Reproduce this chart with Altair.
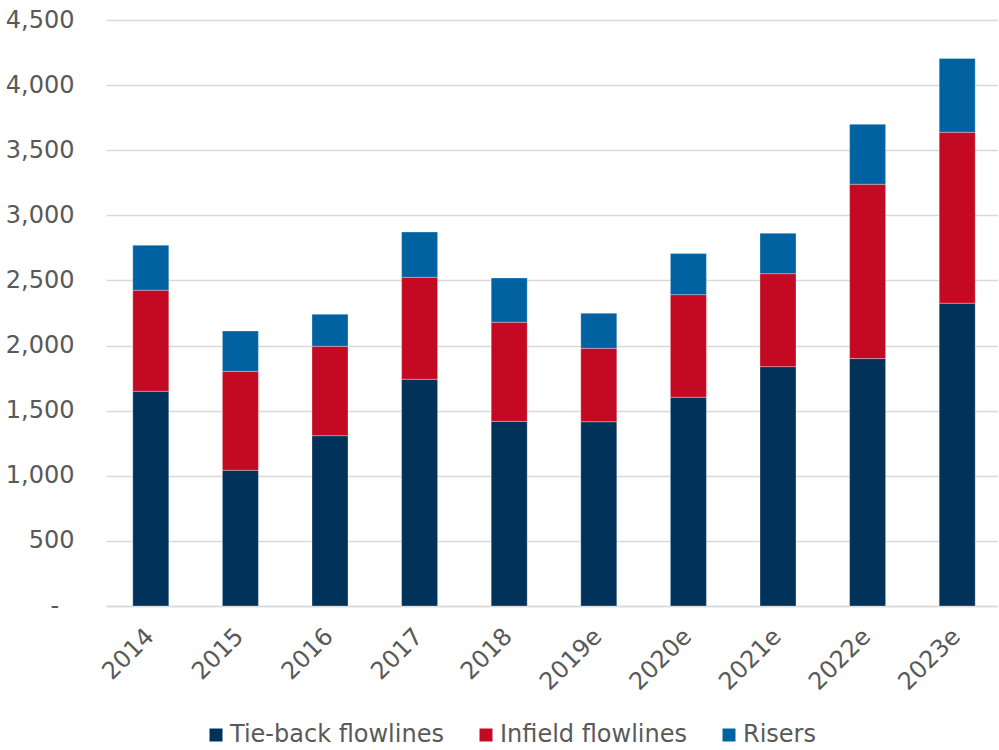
import altair as alt
import pandas as pd

years = ["2014", "2015", "2016", "2017", "2018",
         "2019e", "2020e", "2021e", "2022e", "2023e"]
series = ["Tie-back flowlines", "Infield flowlines", "Risers"]
tieback = [1649, 1042, 1308, 1741, 1418, 1415, 1603, 1838, 1900, 2325]
infield = [776, 760, 686, 783, 761, 564, 788, 714, 1339, 1313]
risers = [345, 310, 246, 348, 340, 269, 315, 310, 460, 566]
colors = ["#00325A", "#C30A22", "#0062A1"]
y_ticks = [0, 500, 1000, 1500, 2000, 2500, 3000, 3500, 4000, 4500]

rows = []
for i, (name, vals) in enumerate(zip(series, [tieback, infield, risers])):
    for year, v in zip(years, vals):
        rows.append({"year": year, "series": name, "value": v, "order": i})
df = pd.DataFrame(rows)

FONT = "DejaVu Sans"
GREY = "#595959"

# zero shows as a padded dash, accounting style
zero_label = "-\u2007\u200b"

chart = alt.Chart(df).mark_bar(
    size=36, stroke="white", strokeWidth=0.6, strokeOpacity=0.5
).encode(
    x=alt.X("year:N", sort=years, title=None,
            scale=alt.Scale(paddingInner=0.6, paddingOuter=0.3),
            axis=alt.Axis(labelAngle=-45, labelFontSize=24, labelColor=GREY,
                          labelFont=FONT, ticks=False, domainColor="#D9D9D9",
                          domainWidth=1.3, labelPadding=18, labelOffset=-9)),
    y=alt.Y("value:Q", title=None,
            scale=alt.Scale(domain=[0, 4500], nice=False),
            axis=alt.Axis(values=y_ticks, domain=False, ticks=False,
                          labelFontSize=24, labelColor=GREY, labelFont=FONT,
                          labelPadding=32, gridColor="#D9D9D9", gridWidth=1.3,
                          labelExpr=f"datum.value == 0 ? '{zero_label}' : format(datum.value, ',')")),
    color=alt.Color("series:N", sort=series,
                    scale=alt.Scale(domain=series, range=colors),
                    legend=alt.Legend(title=None, orient="none", direction="horizontal",
                                      legendX=98, legendY=703,
                                      symbolType="square", symbolSize=169,
                                      symbolStrokeWidth=0, labelFontSize=24,
                                      labelFont=FONT, labelColor=GREY, labelLimit=400,
                                      labelOffset=2, columnPadding=30)),
    order=alt.Order("order:Q", sort="ascending"),
).properties(
    width=896, height=586,
    padding={"left": 5, "top": 8, "right": -4, "bottom": 0},
).configure_view(stroke=None)

chart.save("out.html", embed_options={"renderer": "svg", "actions": False})
